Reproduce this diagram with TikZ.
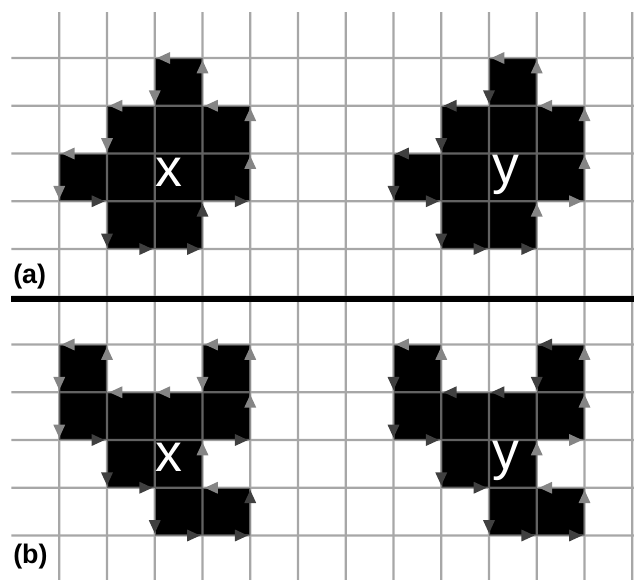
\documentclass[tikz,border=0pt]{standalone}
\usepackage{fontspec}
\setmainfont{Liberation Sans}
\usetikzlibrary{calc}

\definecolor{gridgray}{gray}{0.53}
\definecolor{tipL}{gray}{0.52}
\definecolor{tipD}{gray}{0.25}

\begin{document}
\begin{tikzpicture}

    % パラメータの定義
    \pgfmathsetmacro{\R}{13.04}
    \pgfmathsetmacro{\T}{0.963}
    \pgfmathsetmacro{\B}{-10.95}

    \useasboundingbox (-0.2408,-10.911) rectangle (13.0366,1.2147);

    % 黒いセルの描画
    \fill[black] (3,0) -- (3,-1) -- (2,-1) -- (2,-2) -- (1,-2) -- (1,-3) -- (2,-3) -- (2,-4)
        -- (4,-4) -- (4,-3) -- (5,-3) -- (5,-1) -- (4,-1) -- (4,0) -- cycle;
    \fill[black, xshift=7cm] (3,0) -- (3,-1) -- (2,-1) -- (2,-2) -- (1,-2) -- (1,-3) -- (2,-3) -- (2,-4)
        -- (4,-4) -- (4,-3) -- (5,-3) -- (5,-1) -- (4,-1) -- (4,0) -- cycle;
    \fill[black] (1,-6) -- (1,-8) -- (2,-8) -- (2,-9) -- (3,-9) -- (3,-10) -- (5,-10) -- (5,-9)
        -- (4,-9) -- (4,-8) -- (5,-8) -- (5,-6) -- (4,-6) -- (4,-7) -- (2,-7) -- (2,-6) -- cycle;
    \fill[black, xshift=7cm] (1,-6) -- (1,-8) -- (2,-8) -- (2,-9) -- (3,-9) -- (3,-10) -- (5,-10) -- (5,-9)
        -- (4,-9) -- (4,-8) -- (5,-8) -- (5,-6) -- (4,-6) -- (4,-7) -- (2,-7) -- (2,-6) -- cycle;

    % グリッドの描画
    \begin{scope}[transparency group, opacity=0.73]
        \foreach \i in {1,...,13}
            \draw[gridgray, line width=1.3pt] (\i,\T) -- (\i,\B);
        \foreach \j in {0,...,10}
            \draw[gridgray, line width=1.3pt] (0,-\j) -- (\R,-\j);
    \end{scope}

    % 区切り線
    \draw[line width=3.6pt] (0,-5.047) -- (\R,-5.047);

    % 矢印の描画 (a)
    \foreach \x/\y/\r/\ca/\cb in {3/0/180/tipL/tipL, 4/0/90/tipL/tipL, 3/-1/270/tipL/tipD,
        4/-1/180/tipL/tipL, 5/-1/90/tipL/tipL, 2/-1/180/tipL/tipD, 2/-2/270/tipL/tipD,
        5/-2/90/tipL/tipL, 1/-2/180/tipL/tipD, 1/-3/270/tipL/tipD, 2/-3/0/tipD/tipD,
        5/-3/0/tipD/tipL, 4/-3/90/tipD/tipL, 2/-4/270/tipD/tipD, 3/-4/0/tipD/tipD,
        4/-4/0/tipD/tipD} {
        \fill[\ca, shift={(\x,\y)}, rotate=\r] (-0.05,0) -- (-0.32,0.125) -- (-0.32,-0.125) -- cycle;
        \fill[\cb, shift={(\x+7,\y)}, rotate=\r] (-0.05,0) -- (-0.32,0.125) -- (-0.32,-0.125) -- cycle;
    }

    % 矢印の描画 (b)
    \foreach \x/\y/\r/\ca/\cb in {1/-6/180/tipL/tipL, 2/-6/90/tipL/tipL, 1/-7/270/tipL/tipD,
        2/-7/180/tipL/tipD, 3/-7/180/tipL/tipD, 4/-7/270/tipL/tipD, 4/-6/180/tipL/tipD,
        5/-6/90/tipL/tipL, 5/-7/90/tipL/tipL, 1/-8/270/tipL/tipD, 2/-8/0/tipD/tipD,
        5/-8/0/tipD/tipL, 4/-8/90/tipL/tipL, 2/-9/270/tipD/tipD, 3/-9/0/tipD/tipD,
        4/-9/180/tipL/tipL, 5/-9/90/tipD/tipL, 3/-10/270/tipD/tipD, 4/-10/0/tipD/tipD,
        5/-10/0/tipD/tipD} {
        \fill[\ca, shift={(\x,\y)}, rotate=\r] (-0.05,0) -- (-0.32,0.125) -- (-0.32,-0.125) -- cycle;
        \fill[\cb, shift={(\x+7,\y)}, rotate=\r] (-0.05,0) -- (-0.32,0.125) -- (-0.32,-0.125) -- cycle;
    }

    % ラベル
    \node[white, font=\fontsize{32}{32}\selectfont, anchor=base, inner sep=0] (xa) at (3.303,-2.695) {x};
    \node[white, font=\fontsize{32}{32}\selectfont, anchor=base, inner sep=0] (ya) at (10.356,-2.618) {y};
    \node[white, font=\fontsize{32}{32}\selectfont, anchor=base, inner sep=0] (xb) at (3.303,-8.664) {x};
    \node[white, font=\fontsize{32}{32}\selectfont, anchor=base, inner sep=0] (yb) at (10.356,-8.622) {y};
    \node[font=\fontsize{16}{16}\selectfont\bfseries, anchor=west, inner sep=0] (capa) at (0.03,-4.586) {(a)};
    \node[font=\fontsize{16}{16}\selectfont\bfseries, anchor=west, inner sep=0] (capb) at (0.03,-10.44) {(b)};

\end{tikzpicture}
\end{document}
